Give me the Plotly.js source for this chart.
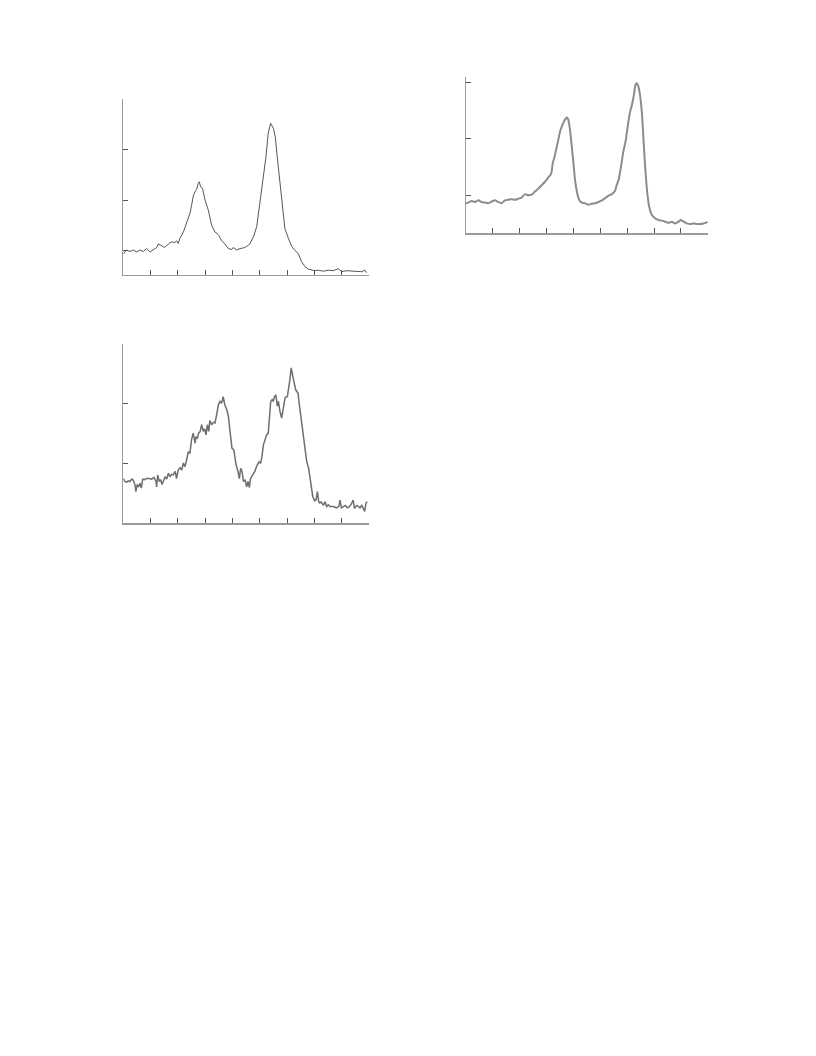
<!DOCTYPE html>
<html>
<head>
<meta charset="utf-8">
<script src="https://cdn.plot.ly/plotly-3.0.1.min.js"></script>
<style>html,body{margin:0;padding:0;background:#fff}#chart{width:816px;height:1056px}</style>
</head>
<body>
<div id="chart"></div>
<script>
// Panel A (top-left)
const xA = [0,0.12,0.24,0.37,0.49,0.61,0.73,0.85,0.98,1.10,1.22,1.28,1.40,1.52,1.65,1.77,1.89,1.95,2.01,2.07,2.20,2.32,2.44,2.50,2.56,2.62,2.68,2.74,2.78,2.83,2.90,2.99,3.11,3.23,3.35,3.48,3.60,3.72,3.84,3.96,4.02,4.15,4.27,4.39,4.51,4.63,4.76,4.88,5.00,5.12,5.22,5.30,5.39,5.49,5.56,5.63,5.73,5.83,5.91,6.04,6.16,6.28,6.40,6.52,6.65,6.77,6.89,7.01,7.13,7.32,7.50,7.68,7.87,7.99,8.17,8.35,8.54,8.72,8.84,8.90];
const yA = [-0.07,0.01,-0.02,0.01,-0.03,0.01,-0.02,0.04,-0.03,0.02,0.06,0.13,0.09,0.06,0.13,0.17,0.16,0.19,0.14,0.24,0.37,0.54,0.74,0.90,1.08,1.16,1.21,1.33,1.36,1.26,1.23,1.00,0.80,0.50,0.37,0.31,0.19,0.13,0.04,0.02,0.06,0.01,0.04,0.05,0.08,0.13,0.27,0.47,0.93,1.40,1.86,2.32,2.52,2.42,2.25,1.86,1.33,0.87,0.44,0.24,0.08,0.00,-0.06,-0.22,-0.32,-0.37,-0.39,-0.40,-0.39,-0.41,-0.39,-0.40,-0.36,-0.42,-0.40,-0.41,-0.41,-0.42,-0.39,-0.44];

// Panel B (top-right)
const xB = [0,0.09,0.21,0.34,0.46,0.58,0.71,0.83,0.96,1.08,1.20,1.33,1.45,1.58,1.70,1.83,1.95,2.07,2.20,2.32,2.45,2.57,2.70,2.82,2.94,3.07,3.17,3.23,3.29,3.35,3.42,3.50,3.59,3.69,3.76,3.81,3.88,3.94,4.00,4.06,4.14,4.21,4.31,4.43,4.56,4.68,4.81,4.93,5.06,5.18,5.30,5.43,5.55,5.61,5.68,5.74,5.80,5.86,5.95,6.02,6.10,6.17,6.25,6.31,6.36,6.42,6.48,6.55,6.61,6.67,6.75,6.82,6.92,7.02,7.17,7.29,7.42,7.54,7.66,7.79,7.91,8.00,8.10,8.22,8.35,8.47,8.60,8.72,8.84,8.97,9.00];
const yB = [-0.14,-0.13,-0.10,-0.12,-0.09,-0.12,-0.13,-0.14,-0.11,-0.09,-0.12,-0.14,-0.09,-0.08,-0.07,-0.08,-0.06,-0.04,0.02,0.00,0.01,0.07,0.12,0.18,0.24,0.32,0.38,0.57,0.67,0.80,0.95,1.13,1.25,1.35,1.38,1.34,1.13,0.86,0.57,0.27,0.04,-0.08,-0.13,-0.14,-0.17,-0.15,-0.14,-0.12,-0.09,-0.05,-0.01,0.02,0.08,0.18,0.27,0.42,0.60,0.78,0.98,1.22,1.46,1.59,1.78,1.96,1.99,1.93,1.78,1.46,0.98,0.51,0.04,-0.20,-0.35,-0.40,-0.44,-0.45,-0.47,-0.49,-0.47,-0.50,-0.47,-0.44,-0.47,-0.50,-0.51,-0.50,-0.51,-0.51,-0.50,-0.48,-0.47];

// Panel C (bottom-left)
const xC = [0,0.06,0.12,0.18,0.24,0.31,0.37,0.43,0.46,0.51,0.56,0.61,0.66,0.71,0.78,0.85,0.95,1.04,1.12,1.20,1.22,1.26,1.32,1.37,1.42,1.47,1.53,1.59,1.65,1.71,1.77,1.83,1.90,1.95,2.01,2.08,2.14,2.20,2.26,2.32,2.38,2.44,2.50,2.56,2.63,2.66,2.71,2.76,2.81,2.87,2.93,2.98,3.03,3.08,3.13,3.17,3.24,3.30,3.36,3.42,3.48,3.54,3.60,3.66,3.72,3.79,3.85,3.91,3.98,4.05,4.13,4.20,4.25,4.30,4.35,4.40,4.46,4.52,4.57,4.62,4.66,4.74,4.82,4.88,4.97,5.03,5.08,5.13,5.19,5.25,5.31,5.35,5.40,5.45,5.49,5.54,5.59,5.64,5.68,5.74,5.80,5.84,5.89,5.93,6.01,6.06,6.11,6.15,6.20,6.25,6.32,6.40,6.45,6.52,6.59,6.65,6.72,6.79,6.84,6.89,6.94,7.01,7.06,7.11,7.16,7.20,7.25,7.33,7.39,7.45,7.51,7.57,7.69,7.81,7.89,7.94,7.99,8.06,8.13,8.21,8.28,8.35,8.42,8.47,8.55,8.62,8.67,8.74,8.79,8.84,8.89,8.94];
const yC = [0.75,0.70,0.69,0.71,0.70,0.74,0.72,0.64,0.53,0.65,0.61,0.67,0.59,0.74,0.73,0.75,0.75,0.74,0.77,0.70,0.61,0.81,0.70,0.73,0.65,0.70,0.78,0.74,0.84,0.78,0.82,0.81,0.87,0.75,0.89,0.93,0.89,1.01,0.95,1.06,1.20,1.17,1.40,1.51,1.34,1.45,1.42,1.51,1.53,1.65,1.54,1.58,1.48,1.65,1.54,1.72,1.65,1.69,1.68,1.82,1.98,2.04,2.01,2.12,1.98,1.90,1.79,1.54,1.26,1.23,0.98,0.87,0.75,0.92,0.87,0.70,0.73,0.61,0.70,0.60,0.75,0.81,0.87,0.95,1.03,1.01,1.12,1.31,1.40,1.48,1.51,1.76,2.04,2.07,2.04,2.12,2.15,1.96,2.04,1.87,1.76,1.87,1.98,2.11,2.12,2.26,2.43,2.60,2.51,2.37,2.23,2.18,1.98,1.73,1.54,1.28,1.03,0.92,0.78,0.61,0.45,0.38,0.39,0.53,0.36,0.34,0.36,0.30,0.36,0.28,0.31,0.28,0.28,0.26,0.28,0.39,0.26,0.28,0.30,0.26,0.28,0.32,0.39,0.25,0.30,0.28,0.26,0.30,0.24,0.20,0.34,0.36];

const xTicks = [0,1,2,3,4,5,6,7,8,9];

function ax(domain, range, tickvals) {
  return {
    domain: domain, range: range, tickvals: tickvals,
    showline: true, linecolor: '#9a9a9a', linewidth: 1.5,
    ticks: 'inside', ticklen: 5, tickwidth: 1, tickcolor: '#555',
    showticklabels: false, showgrid: false, zeroline: false, fixedrange: true
  };
}

const traces = [
  {x: xA, y: yA, xaxis: 'x', yaxis: 'y', mode: 'lines', line: {color: '#555555', width: 1}, hoverinfo: 'skip'},
  {x: xB, y: yB, xaxis: 'x2', yaxis: 'y2', mode: 'lines', line: {color: '#8c8c8c', width: 2, shape: 'spline', smoothing: 0.6}, hoverinfo: 'skip'},
  {x: xC, y: yC, xaxis: 'x3', yaxis: 'y3', mode: 'lines', line: {color: '#6e6e6e', width: 1.5}, hoverinfo: 'skip'}
];

const layout = {
  width: 816, height: 1056,
  margin: {l: 0, r: 0, t: 0, b: 0},
  paper_bgcolor: '#ffffff', plot_bgcolor: 'rgba(0,0,0,0)',
  showlegend: false,
  xaxis: Object.assign(ax([0.1511, 0.4526], [0, 9], xTicks), {anchor: 'y'}),
  yaxis: Object.assign(ax([0.7396, 0.9062], [-0.485, 3.0], [0,1,2,3]), {anchor: 'x'}),
  xaxis2: Object.assign(ax([0.5711, 0.8673], [0, 9], xTicks), {anchor: 'y2'}),
  yaxis2: Object.assign(ax([0.7791, 0.9274], [-0.675, 2.107], [0,1,2]), {anchor: 'x2'}),
  xaxis3: Object.assign(ax([0.1511, 0.4522], [0, 9], xTicks), {anchor: 'y3'}),
  yaxis3: Object.assign(ax([0.5044, 0.6742], [0, 3], [0,1,2,3]), {anchor: 'x3'})
};

Plotly.newPlot('chart', traces, layout, {staticPlot: true, displayModeBar: false});
</script>
</body>
</html>
